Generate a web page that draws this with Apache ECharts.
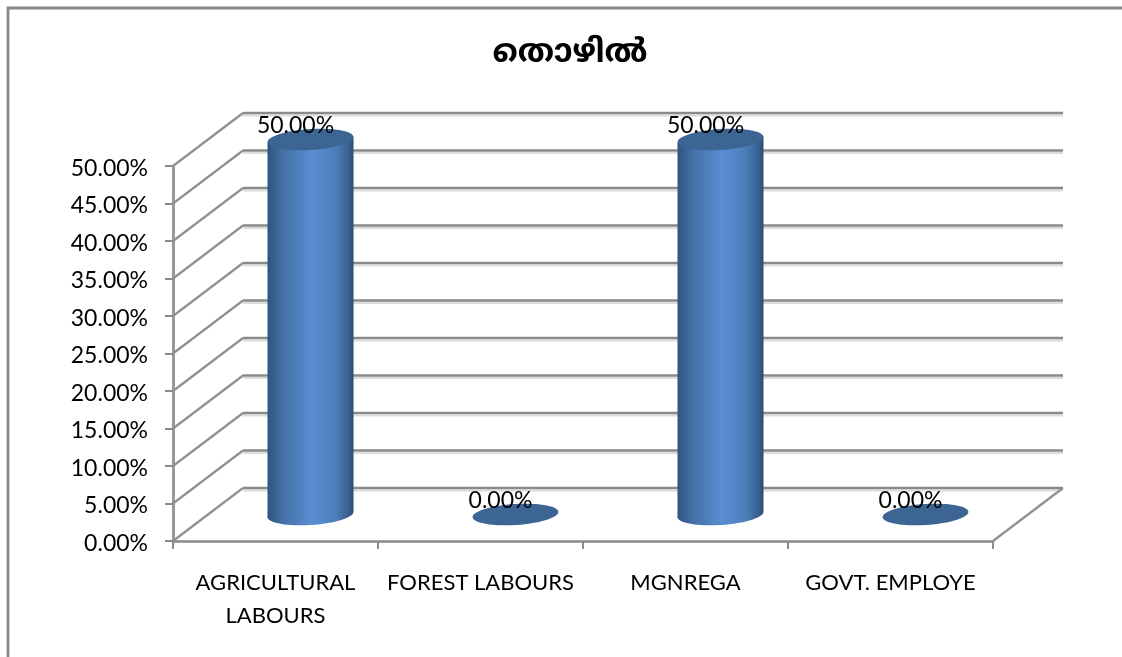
<!DOCTYPE html>
<html><head><meta charset="utf-8">
<style>html,body{margin:0;padding:0;background:#fff}#c{width:1122px;height:657px}</style>
<script src="https://cdn.jsdelivr.net/npm/echarts@6/dist/echarts.min.js"></script>
</head><body><div id="c"></div>
<script>
const titleText = 'തൊഴിൽ';
const categories = ['AGRICULTURAL\nLABOURS', 'FOREST LABOURS', 'MGNREGA', 'GOVT. EMPLOYE'];
const values = [0.5, 0, 0.5, 0];
const gridTicks = [0,0.05,0.1,0.15,0.2,0.25,0.3,0.35,0.4,0.45,0.5];
const DX = 70, DY = -53, RX = 43, RY = 10.5, TILT = 0.065;
const FONT = 'Lato, "Noto Sans", sans-serif';
const chart = echarts.init(document.getElementById('c'), null, {renderer:'canvas'});

function wallItem(params, api){
  const v = api.value(0);
  const g = params.coordSys;
  const y = api.coord([0, v])[1];
  const x0 = g.x, x1 = g.x + g.width;
  const children = [
    {type:'line', silent:true, shape:{x1:x0+DX, y1:y+DY+2.5, x2:x1+DX, y2:y+DY+2.5}, style:{stroke:'#dcdcdc', lineWidth:2}},
    {type:'line', silent:true, shape:{x1:x0+DX, y1:y+DY, x2:x1+DX, y2:y+DY}, style:{stroke:'#8a8a8a', lineWidth:2.6}},
    {type:'line', silent:true, shape:{x1:x0, y1:y, x2:x0+DX, y2:y+DY}, style:{stroke:'#909090', lineWidth:2.2}}
  ];
  if (v === 0) children.push({type:'line', silent:true,
    shape:{x1:x1, y1:y, x2:x1+DX, y2:y+DY}, style:{stroke:'#909090', lineWidth:2.2}});
  return {type:'group', children};
}
function cylItem(params, api){
  const p = api.coord([api.value(0), api.value(1)]);
  const b = api.coord([api.value(0), 0]);
  const cx = p[0] + DX/2, top = p[1] + DY/2, bot = b[1] + DY/2;
  const children = [];
  const ell = (cy, fill) => ({type:'ellipse', silent:true, rotation:TILT, originX:cx, originY:cy,
    shape:{cx, cy, rx:RX, ry:RY}, style:{fill}});
  if (bot - top > 1) {
    const grad = () => new echarts.graphic.LinearGradient(0,0,1,0,[
      {offset:0,color:'#2f5480'},{offset:0.18,color:'#4471a6'},{offset:0.52,color:'#5a8ed2'},
      {offset:0.8,color:'#4c7db8'},{offset:0.94,color:'#38608f'},{offset:1,color:'#2c4c72'}]);
    children.push(ell(bot, grad()));
    children.push({type:'polygon', silent:true,
      shape:{points:[[cx-RX, top+3],[cx+RX, top-3],[cx+RX, bot-3],[cx-RX, bot+3]]},
      style:{fill:grad()}});
  }
  children.push(ell(top, '#3c6594'));
  children.push({type:'text', silent:true, x:p[0]+20, y:p[1]-40,
    style:{text:(api.value(1)*100).toFixed(2)+'%', font:'23px '+FONT, fill:'#000', align:'center', verticalAlign:'middle'}});
  return {type:'group', children};
}
const option = {
  animation:false,
  backgroundColor:'#fff',
  title:{text:titleText, left:565, top:35, textAlign:'center',
    textStyle:{fontSize:32, fontWeight:'bold', color:'#000',
      fontFamily:'"Noto Sans Malayalam","Noto Sans",Lato,sans-serif'}},
  grid:{left:173, top:166, width:820, height:375, containLabel:false},
  xAxis:{type:'category', data:categories, boundaryGap:true,
    axisLine:{show:true, lineStyle:{color:'#8a8a8a', width:2.6}},
    axisTick:{show:true, alignWithLabel:false, length:8, lineStyle:{color:'#8a8a8a', width:2}},
    axisLabel:{color:'#000', fontFamily:FONT, fontSize:22, lineHeight:33, margin:25, interval:0},
    splitLine:{show:false}},
  yAxis:{type:'value', min:0, max:0.5, interval:0.05,
    axisLine:{show:true, lineStyle:{color:'#999999', width:3}},
    axisTick:{show:true, length:8, lineStyle:{color:'#8a8a8a', width:2}},
    axisLabel:{color:'#000', fontFamily:FONT, fontSize:23, margin:25,
      formatter:v=>'{a|'+(v*100).toFixed(2)+'%}',
      rich:{a:{fontFamily:FONT, fontSize:23, color:'#000', padding:[5,0,0,0]}}},
    splitLine:{show:false}},
  graphic:[{type:'polyline', silent:true, z:-1,
    shape:{points:[[8,657],[8,8],[1122,8]]},
    style:{stroke:'#8a8a8a', lineWidth:2.8, fill:null}}],
  series:[
    {type:'custom', coordinateSystem:'cartesian2d', renderItem:wallItem, z:1,
     encode:{y:0}, data:gridTicks.map(v=>[v]), clip:false},
    {type:'custom', coordinateSystem:'cartesian2d', renderItem:cylItem, z:3,
     encode:{x:0,y:1}, data:values.map((v,i)=>[i,v]), clip:false}
  ]
};
chart.setOption(option);
</script></body></html>
